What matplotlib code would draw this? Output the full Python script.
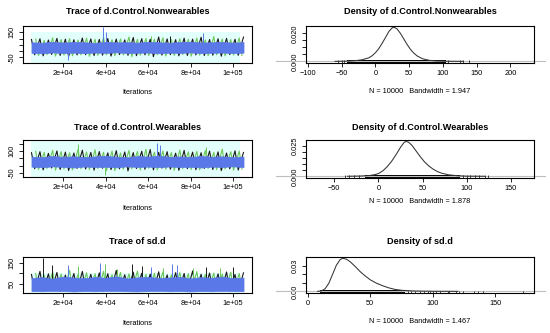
import numpy as np
import matplotlib
matplotlib.use('Agg')
import matplotlib.pyplot as plt
import matplotlib.transforms as mtransforms

plt.rcParams['font.family'] = ['Liberation Sans', 'DejaVu Sans']

# ---- trace data (envelopes) ----
iters_core = np.arange(5000, 105001, 5000)
iters_black = np.arange(5000, 105001, 4000)
iters_green = np.arange(7000, 103001, 4000)

# d.Control.Nonwearables
core_hi1 = [70, 66, 74, 68, 72, 70, 65, 73, 69, 71, 67, 74, 70, 66, 72, 75, 68, 70, 73, 67, 71]
core_lo1 = [-14, -18, -11, -16, -13, -17, -12, -15, -10, -16, -14, -12, -18, -13, -15, -11, -17, -14, -12, -16, -13]
black_hi1 = [92, 98, 88, 101, 95, 90, 104, 97, 93, 100, 96, 89, 108, 99, 94, 112, 97, 91, 103, 95, 110, 92, 98, 101, 94, 112]
black_lo1 = [-30, -38, -27, -35, -42, -31, -29, -36, -33, -40, -28, -34, -37, -30, -45, -32, -29, -38, -35, -31, -36, -33, -41, -28, -34, -30]
green_hi1 = [96, 85, 105, 92, 99, 88, 102, 94, 108, 90, 97, 112, 93, 100, 95, 106, 91, 98, 94, 103, 89, 115, 96, 92, 104]
green_lo1 = [-35, -28, -40, -32, -38, -30, -42, -34, -29, -37, -31, -44, -33, -36, -30, -39, -35, -28, -41, -33, -37, -30, -38, -32, -36]
spike_it1 = [22000, 38800, 40000, 61600, 70200, 85900]
spike_val1 = [-72, 192, 150, 118, 122, 142]
spike_col1 = ['blue', 'blue', 'blue', 'green', 'black', 'blue']

# d.Control.Wearables
core_hi2 = [62, 58, 66, 60, 64, 59, 63, 67, 61, 57, 65, 62, 68, 60, 63, 59, 66, 61, 64, 58, 62]
core_lo2 = [-6, -10, -4, -8, -12, -5, -9, -7, -11, -4, -8, -6, -10, -5, -9, -7, -12, -6, -8, -4, -9]
black_hi2 = [88, 95, 84, 100, 92, 86, 105, 90, 96, 87, 102, 93, 89, 98, 110, 91, 95, 85, 104, 92, 88, 99, 94, 86, 101, 90]
black_lo2 = [-20, -28, -15, -25, -32, -18, -22, -30, -17, -26, -21, -35, -19, -24, -28, -16, -23, -31, -20, -27, -18, -25, -33, -21, -29, -24]
green_hi2 = [98, 90, 104, 95, 88, 112, 93, 108, 91, 99, 86, 104, 97, 110, 92, 100, 89, 106, 94, 98, 103, 90, 112, 95, 99]
green_lo2 = [-25, -18, -30, -22, -28, -20, -26, -19, -35, -33, -24, -21, -29, -17, -27, -23, -31, -20, -25, -28, -18, -26, -22, -30, -24]
spike_it2 = [27000, 39600, 64000, 65500, 87500]
spike_val2 = [148, -62, 155, 140, 128]
spike_col2 = ['green', 'green', 'blue', 'blue', 'green']

# sd.d
core_hi3 = [78, 82, 75, 85, 80, 77, 83, 79, 86, 76, 81, 84, 78, 80, 83, 76, 82, 79, 85, 77, 80]
core_lo3 = [15, 14, 16, 15, 13, 15, 14, 16, 15, 14, 13, 15, 16, 14, 15, 13, 15, 14, 16, 15, 14]
black_hi3 = [95, 110, 98, 105, 92, 100, 110, 96, 103, 99, 115, 94, 106, 101, 97, 108, 93, 104, 100, 112, 96, 102, 98, 107, 95, 103]
black_lo3 = [16, 15, 17, 14, 16, 15, 17, 16, 14, 15, 17, 16, 15, 14, 16, 17, 15, 16, 14, 15, 17, 16, 15, 14, 16, 15]
green_hi3 = [100, 92, 108, 97, 115, 95, 103, 99, 110, 94, 105, 98, 112, 96, 101, 107, 93, 104, 99, 109, 95, 102, 97, 106, 100]
green_lo3 = [15, 17, 16, 14, 15, 16, 17, 15, 14, 16, 15, 17, 16, 14, 15, 16, 17, 15, 14, 16, 15, 17, 16, 14, 15]
spike_it3 = [10400, 14500, 22400, 27000, 37300, 39600, 45100, 52200, 56900, 61600,
             67000, 71500, 73400, 81200, 87500, 93700, 100000]
spike_val3 = [176, 140, 142, 136, 151, 148, 122, 146, 135, 132, 126, 146, 140, 126, 130, 124, 130]
spike_col3 = ['black', 'black', 'blue', 'green', 'blue', 'green', 'green', 'black', 'black', 'blue',
              'green', 'blue', 'blue', 'green', 'black', 'green', 'black']

# ---- density data ----
dens_x1 = [-60, -40, -30, -20, -10, -5, 0, 5, 10, 15, 20, 25, 28, 32, 37, 42, 47, 52, 57, 62, 70, 80, 90, 105, 130]
dens_y1 = [0.0000, 0.0002, 0.0005, 0.0011, 0.0025, 0.0040, 0.0062, 0.0092, 0.0130, 0.0172, 0.0215, 0.0241,
           0.0243, 0.0232, 0.0200, 0.0160, 0.0120, 0.0085, 0.0058, 0.0038, 0.0018, 0.0007, 0.0003, 0.0001, 0.0000]
rug_band1 = (-42, 104)
rug_out1 = [-55, -50, -47, 108, 126, 130, 138]

dens_x2 = [-35, -20, -10, -5, 0, 5, 10, 15, 20, 25, 29, 31, 34, 38, 42, 47, 52, 57, 62, 67, 72, 80, 90, 100, 120]
dens_y2 = [0.0000, 0.0002, 0.0006, 0.0012, 0.0022, 0.0045, 0.0080, 0.0125, 0.0180, 0.0240, 0.0280, 0.0288,
           0.0282, 0.0255, 0.0215, 0.0165, 0.0120, 0.0085, 0.0058, 0.0038, 0.0024, 0.0011, 0.0004, 0.0001, 0.0000]
rug_band2 = (-15, 92)
rug_out2 = [-38, -33, -28, -22, 96, 100, 104, 109, 114, 120, 124]

dens_x3 = [8, 11, 14, 17, 20, 23, 26, 28, 31, 34, 38, 42, 46, 50, 55, 60, 65, 70, 75, 85, 100, 120]
dens_y3 = [0.0000, 0.0005, 0.0030, 0.0095, 0.0200, 0.0305, 0.0370, 0.0385, 0.0375, 0.0345, 0.0290, 0.0230,
           0.0180, 0.0135, 0.0095, 0.0065, 0.0040, 0.0022, 0.0012, 0.0004, 0.0001, 0.0000]
rug_band3 = (10, 78)
rug_out3 = [80, 83, 86, 90, 93, 96, 98, 100, 103, 106, 112, 113, 119, 121, 124, 133, 136, 140, 172]

names = ['d.Control.Nonwearables', 'd.Control.Wearables', 'sd.d']
bandwidths = ['1.947', '1.878', '1.467']

palette = {'black': '#1A1A1A', 'green': '#6CC85A', 'blue': '#5A78E8'}
PX = 72 / 100.0  # points per pixel

fig = plt.figure(figsize=(5.5, 3.33), dpi=100)


def px_axes(left, top, right, bottom):
    return fig.add_axes([left / 550, 1 - bottom / 333, (right - left) / 550, (bottom - top) / 333])


def style_axes(ax, title, title_pad):
    for s in ax.spines.values():
        s.set_linewidth(0.8)
    ax.set_title(title, fontsize=6.6, fontweight='bold', pad=title_pad * PX)
    ax.tick_params(length=4 * PX, width=0.6, labelsize=5.3, pad=2.5)
    plt.setp(ax.get_yticklabels(), rotation=90, va='center')


def zigzag(its, hi, lo, step):
    # chain path alternating between the read high and low excursions
    xs = np.ravel(np.column_stack([its, np.asarray(its) + step]))
    ys = np.ravel(np.column_stack([hi, lo]))
    return xs, ys


def trace_panel(ax, core_hi, core_lo, black_hi, black_lo, green_hi, green_lo,
                sp_it, sp_val, sp_col, mid, ylim, yticks, ylabels, bg_top):
    ax.axvspan(iters_core[0], iters_core[-1] - 1500, ymin=0,
               ymax=(bg_top - ylim[0]) / (ylim[1] - ylim[0]), color='#E2FFFC', lw=0, zorder=0.5)
    gx, gy = zigzag(iters_green, green_hi, green_lo, 1300)
    ax.plot(gx, gy, color=palette['green'], lw=0.8, zorder=1)
    bx, by = zigzag(iters_black, black_hi, black_lo, 1500)
    ax.plot(bx[:-1], by[:-1], color=palette['black'], lw=0.8, zorder=1.1)
    for it, v, c in zip(sp_it, sp_val, sp_col):
        ax.vlines(it, mid, v, color=palette[c], lw=0.7, zorder=1.2)
    ax.fill_between(iters_core, core_lo, core_hi, color=palette['blue'], lw=0.5,
                    edgecolor=palette['blue'], zorder=3)
    ax.set_xlim(1000, 109000)
    ax.set_ylim(*ylim)
    ax.set_xticks([20000, 40000, 60000, 80000, 100000])
    ax.set_xticklabels(['2e+04', '4e+04', '6e+04', '8e+04', '1e+05'])
    ax.set_yticks(yticks)
    ax.set_yticklabels(ylabels)


def density_panel(ax, xs, ys, band, outs, xlim, ylim, xticks, yticks, ylabels):
    ax.axhline(0, xmin=-0.13, xmax=1.05, color='#BEBEBE', lw=0.8, clip_on=False)
    ax.axvspan(band[0], band[1], ymin=0, ymax=0.08, color='black', lw=0)
    trans = mtransforms.blended_transform_factory(ax.transData, ax.transAxes)
    ax.vlines(outs, 0, 0.06, transform=trans, color='black', lw=0.5)
    ax.plot(xs, ys, color='#333333', lw=0.75)
    ax.set_xlim(*xlim)
    ax.set_ylim(*ylim)
    ax.set_xticks(xticks)
    ax.set_yticks(yticks)
    ax.set_yticklabels(ylabels)


def under_label(ax, text, offset):
    ax.annotate(text, xy=(0.5, 0), xycoords='axes fraction', xytext=(0, -offset * PX),
                textcoords='offset points', ha='center', va='center', fontsize=5.3)


# row boxes in pixels: (top, bottom)
rows = [(26, 62.7), (140, 177), (256.5, 292.7)]
title_pads = [12.5, 10.5, 12]

# trace column
tr1 = px_axes(23, rows[0][0], 252, rows[0][1])
trace_panel(tr1, core_hi1, core_lo1, black_hi1, black_lo1, green_hi1, green_lo1,
            spike_it1, spike_val1, spike_col1, 28, (-93, 200),
            [-50, 0, 50, 100, 150], ['-50', '', '', '', '150'], 155)
tr2 = px_axes(23, rows[1][0], 252, rows[1][1])
trace_panel(tr2, core_hi2, core_lo2, black_hi2, black_lo2, green_hi2, green_lo2,
            spike_it2, spike_val2, spike_col2, 28, (-76, 174),
            [-50, 0, 50, 100, 150], ['-50', '', '', '100', ''], 170)
tr3 = px_axes(23, rows[2][0], 252, rows[2][1])
trace_panel(tr3, core_hi3, core_lo3, black_hi3, black_lo3, green_hi3, green_lo3,
            spike_it3, spike_val3, spike_col3, 45, (7, 182),
            [50, 100, 150], ['50', '', '150'], 103)

for ax, name, tp, off in zip([tr1, tr2, tr3], names, title_pads, [30, 32, 30.5]):
    style_axes(ax, f'Trace of {name}', tp)
    under_label(ax, 'Iterations', off)

# density column
de1 = px_axes(306, rows[0][0], 534, rows[0][1])
density_panel(de1, dens_x1, dens_y1, rug_band1, rug_out1, (-103, 235), (-0.00097, 0.0253),
              [-100, -50, 0, 50, 100, 150, 200], [0, 0.005, 0.01, 0.015, 0.02],
              ['0.000', '', '', '', '0.020'])
de2 = px_axes(306, rows[1][0], 534, rows[1][1] + 0.7)
density_panel(de2, dens_x2, dens_y2, rug_band2, rug_out2, (-82, 176), (-0.0012, 0.0300),
              [-50, 0, 50, 100, 150], [0, 0.005, 0.01, 0.015, 0.02, 0.025],
              ['0.000', '', '', '', '', '0.025'])
de3 = px_axes(306, rows[2][0], 534, rows[2][1])
density_panel(de3, dens_x3, dens_y3, rug_band3, rug_out3, (-1.3, 181), (-0.0016, 0.0406),
              [0, 50, 100, 150], [0, 0.01, 0.02, 0.03],
              ['0.00', '', '', '0.03'])

for ax, name, bw, tp, off in zip([de1, de2, de3], names, bandwidths, title_pads, [29, 23.5, 28.6]):
    style_axes(ax, f'Density of {name}', tp)
    under_label(ax, f'N = 10000   Bandwidth = {bw}', off)

fig.savefig('out.png', dpi=100)
